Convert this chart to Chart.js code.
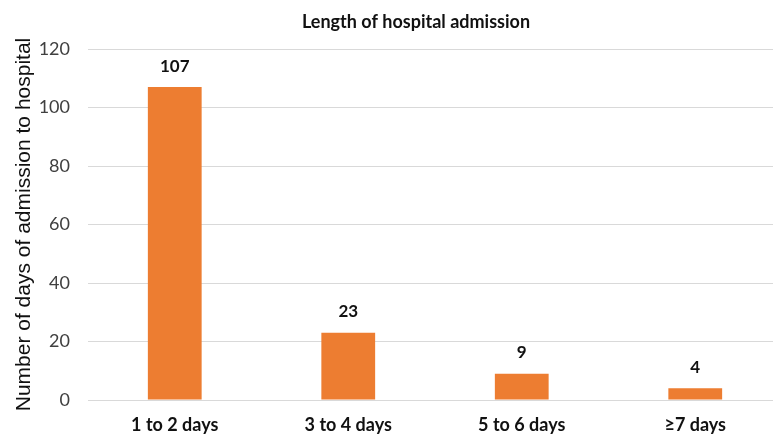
<!DOCTYPE html>
<html>
<head>
<meta charset="utf-8">
<script src="https://cdn.jsdelivr.net/npm/chart.js@4.4.1/dist/chart.umd.min.js"></script>
<style>
  html, body { margin: 0; padding: 0; background: #fff; overflow: hidden; }
  #wrap { position: relative; width: 782px; height: 434px; }
</style>
</head>
<body>
<div id="wrap"><canvas id="chart"></canvas></div>
<script>
// Length of stay categories and counts
const categories = ['1 to 2 days', '3 to 4 days', '5 to 6 days', '≥7 days'];
const admissions = [107, 23, 9, 4];
const yTicks = [0, 20, 40, 60, 80, 100, 120];
const chartTitle = 'Length of hospital admission';

const labelFont = "Lato, 'Open Sans', sans-serif";

// Writes each bar's value just above it
const barValueLabels = {
  id: 'barValueLabels',
  afterDatasetsDraw(chart) {
    const ctx = chart.ctx;
    const meta = chart.getDatasetMeta(0);
    ctx.save();
    ctx.font = "bold 17px " + labelFont;
    ctx.fillStyle = '#111';
    ctx.textAlign = 'center';
    ctx.textBaseline = 'middle';
    meta.data.forEach((bar, i) => {
      ctx.fillText(String(chart.data.datasets[0].data[i]), bar.x, bar.y - 21);
    });
    ctx.restore();
  }
};

// Chart heading, set a little left of the plot's centre
const headingPlugin = {
  id: 'heading',
  afterDraw(chart) {
    const ctx = chart.ctx;
    ctx.save();
    ctx.font = "bold 18px " + labelFont;
    ctx.fillStyle = '#111';
    ctx.textAlign = 'center';
    ctx.textBaseline = 'middle';
    ctx.fillText(chartTitle, 416, 22);
    ctx.restore();
  }
};

new Chart(document.getElementById('chart'), {
  type: 'bar',
  data: {
    labels: categories,
    datasets: [{
      data: admissions,
      backgroundColor: '#ED7D31',
      barPercentage: 0.62,
      categoryPercentage: 0.5
    }]
  },
  options: {
    responsive: true,
    maintainAspectRatio: false,
    animation: false,
    layout: { padding: { top: 49, right: 0, bottom: 0, left: 0 } },
    plugins: {
      legend: { display: false },
      tooltip: { enabled: false },
      title: { display: false }
    },
    scales: {
      x: {
        afterFit(scale) { scale.height = 34; },
        grid: { display: false, drawTicks: false },
        border: { display: false },
        ticks: {
          color: '#111',
          padding: 16,
          font: { family: labelFont, size: 18, weight: 'bold', lineHeight: 1 }
        }
      },
      y: {
        min: 0,
        max: 120,
        afterBuildTicks(scale) {
          scale.ticks = yTicks.map(v => ({ value: v }));
        },
        afterFit(scale) { scale.width = 88; },
        grid: { color: '#D9D9D9', lineWidth: 1, drawTicks: false },
        border: { display: false },
        ticks: {
          color: '#404040',
          padding: 18,
          font: { family: labelFont, size: 18 }
        },
        title: {
          display: true,
          text: 'Number of days of admission to hospital',
          color: '#111',
          font: { family: "'Liberation Sans', Arial, sans-serif", size: 21 },
          padding: { top: 12, bottom: 0 }
        }
      }
    }
  },
  plugins: [barValueLabels, headingPlugin]
});
</script>
</body>
</html>
